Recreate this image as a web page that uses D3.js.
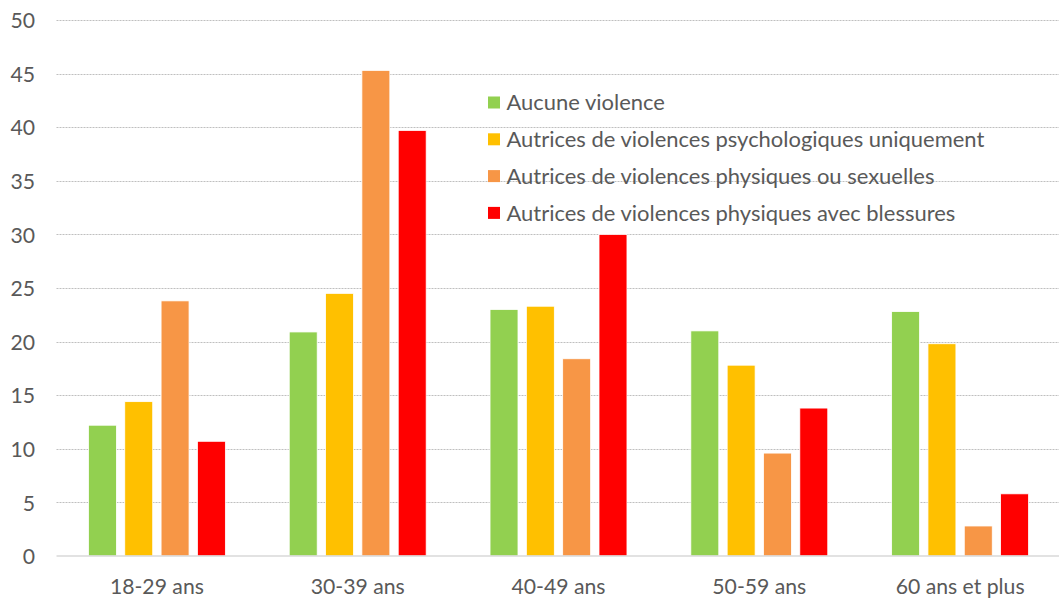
<!DOCTYPE html>
<html><head><meta charset="utf-8">
<script src="https://cdn.jsdelivr.net/npm/d3@7"></script>
<style>
html,body{margin:0;padding:0;background:#fff;}
svg{display:block;}
text{font-family:Lato,"Open Sans",sans-serif;fill:#595959;}
</style></head>
<body><svg id="chart" width="1059" height="605"></svg>
<script>
const categories = ["18-29 ans","30-39 ans","40-49 ans","50-59 ans","60 ans et plus"];
const seriesNames = ["Aucune violence","Autrices de violences psychologiques uniquement","Autrices de violences physiques ou sexuelles","Autrices de violences physiques avec blessures"];
const aucune = [12.2, 20.9, 23.0, 21.0, 22.8];
const psycho = [14.4, 24.5, 23.3, 17.8, 19.8];
const physSex = [23.8, 45.3, 18.4, 9.6, 2.8];
const blessures = [10.7, 39.7, 30.0, 13.8, 5.8];
const yTicks = [0,5,10,15,20,25,30,35,40,45,50];
const colors = ["#92D050","#FFC000","#F79646","#FF0000"];

(function(){
const seriesValues = [aucune, psycho, physSex, blessures];
const svg = d3.select("#chart");
const mLeft = 56.5, mRight = 1060.5, mTop = 20, mBottom = 556;

const y = d3.scaleLinear().domain([0,50]).range([mBottom, mTop]);
const x0 = d3.scaleBand().domain(categories).range([mLeft, mRight]).paddingInner(0.318).paddingOuter(0.159);
const x1 = d3.scaleBand().domain(d3.range(seriesNames.length)).range([0, x0.bandwidth()]).paddingInner(0.23).paddingOuter(0);

// gridlines
const grid = svg.append("g");
grid.selectAll("line").data(yTicks.filter(d=>d>0)).join("line")
  .attr("x1", mLeft).attr("x2", 1059)
  .attr("y1", d=>Math.round(y(d))+0.5).attr("y2", d=>Math.round(y(d))+0.5)
  .attr("stroke", "#BFBFBF").attr("stroke-width", 1).attr("stroke-dasharray", "2,1");

// y labels via axis
const yAxis = d3.axisLeft(y).tickValues(yTicks).tickSize(0).tickPadding(0);
const yg = svg.append("g").attr("transform", `translate(35,0)`).call(yAxis);
yg.select(".domain").remove();
yg.selectAll("text").attr("font-size", 21).style("fill","#595959").attr("font-family","Lato, sans-serif").attr("dy","0.36em");

// bars
const groups = svg.append("g").selectAll("g").data(categories).join("g")
  .attr("transform", c=>`translate(${x0(c)},0)`);
groups.selectAll("rect").data((c,ci)=>seriesValues.map((s,si)=>({si, v:s[ci]}))).join("rect")
  .attr("x", d=>x1(d.si)).attr("width", x1.bandwidth())
  .attr("y", d=>y(d.v)).attr("height", d=>y(0)-y(d.v))
  .attr("fill", d=>colors[d.si]).attr("stroke","#fff").attr("stroke-width",0.8);

// baseline
svg.append("line").attr("x1", mLeft).attr("x2", 1059).attr("y1", mBottom).attr("y2", mBottom)
  .attr("stroke", "#D9D9D9").attr("stroke-width", 1.5);

// x axis labels
const xAxis = d3.axisBottom(x0).tickSize(0).tickPadding(0);
const xg = svg.append("g").attr("transform", `translate(0,${mBottom})`).call(xAxis);
xg.select(".domain").remove();
xg.selectAll("text").attr("font-size", 21).attr("y", 30).attr("dy","0.36em").style("fill","#595959").attr("font-family","Lato, sans-serif");

// fit label font to measured width
const t = xg.selectAll("text").filter(d=>d==="30-39 ans").node();
const w = t.getComputedTextLength();
const fs = 21*94/w;
xg.selectAll("text").attr("font-size", fs);
yg.selectAll("text").attr("font-size", fs);

// legend
const lg = svg.append("g");
const rows = lg.selectAll("g").data(seriesNames).join("g")
  .attr("transform", (d,i)=>`translate(488,${102.5 + i*36.8})`);
rows.append("rect").attr("x",0).attr("y",-6).attr("width",12).attr("height",12).attr("fill",(d,i)=>colors[i]);
const lt = rows.append("text").attr("x",18.5).attr("dy","0.36em").attr("font-size",20).text(d=>d);
const lw = lt.nodes()[1].getComputedTextLength();
lt.attr("font-size", 20*478/lw);
})();
</script></body></html>
